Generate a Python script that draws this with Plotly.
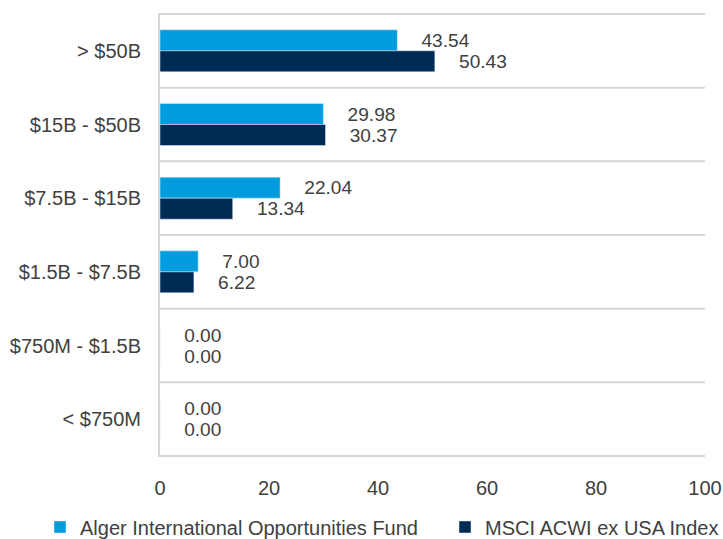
import plotly.graph_objects as go

categories = ["> $50B", "$15B - $50B", "$7.5B - $15B", "$1.5B - $7.5B", "$750M - $1.5B", "< $750M"]
fund_values = [43.54, 29.98, 22.04, 7.00, 0.00, 0.00]
index_values = [50.43, 30.37, 13.34, 6.22, 0.00, 0.00]
series_names = ["Alger International Opportunities Fund", "MSCI ACWI ex USA Index"]
x_ticks = [0, 20, 40, 60, 80, 100]

FONT = "Liberation Sans, Arial, sans-serif"
TXT = "#404040"
FS = 20
W, H = 723, 539

fig = go.Figure()
fig.add_trace(go.Bar(
    y=categories, x=fund_values, orientation="h", name=series_names[0],
    marker=dict(color="#009CDE"), legend="legend",
    text=[f"{v:.2f}" for v in fund_values], textposition="outside",
    texttemplate="    %{text}", cliponaxis=False,
    textfont=dict(family=FONT, size=FS, color=TXT),
))
fig.add_trace(go.Bar(
    y=categories, x=index_values, orientation="h", name=series_names[1],
    marker=dict(color="#002B54"), legend="legend2",
    text=[f"{v:.2f}" for v in index_values], textposition="outside",
    texttemplate="    %{text}", cliponaxis=False,
    textfont=dict(family=FONT, size=FS, color=TXT),
))

shapes = []
for i in range(len(categories) + 1):
    shapes.append(dict(type="line", xref="paper", yref="y", x0=0, x1=1,
                       y0=i - 0.5, y1=i - 0.5, line=dict(color="#d6d6d6", width=2)))

leg_common = dict(orientation="h", xref="container", yref="container",
                  yanchor="middle", xanchor="left", y=1 - 527 / H,
                  font=dict(family=FONT, size=FS, color=TXT),
                  bgcolor="rgba(0,0,0,0)", borderwidth=0)

fig.update_layout(
    width=W, height=H,
    margin=dict(l=160, r=18, t=13, b=82, autoexpand=False),
    paper_bgcolor="white", plot_bgcolor="white",
    barmode="group", bargap=0.43, bargroupgap=0,
    font=dict(family=FONT, size=FS, color=TXT),
    shapes=shapes,
    showlegend=True,
    legend=dict(x=40 / W, **leg_common),
    legend2=dict(x=445 / W, **leg_common),
    xaxis=dict(range=[0, 100], tickvals=x_ticks, showgrid=False, zeroline=False,
               showline=False, ticks="", tickfont=dict(size=FS),
               ticklabelstandoff=17, automargin=False),
    yaxis=dict(categoryorder="array", categoryarray=categories, autorange="reversed",
               showgrid=False, zeroline=False, showline=True, linecolor="#d6d6d6",
               linewidth=2, ticks="", ticklabelstandoff=13,
               tickfont=dict(size=FS), automargin=False),
)
fig.write_html("out.html", config={"displayModeBar": False},
               post_script="document.body.style.margin='0';document.body.style.overflow='hidden';")
